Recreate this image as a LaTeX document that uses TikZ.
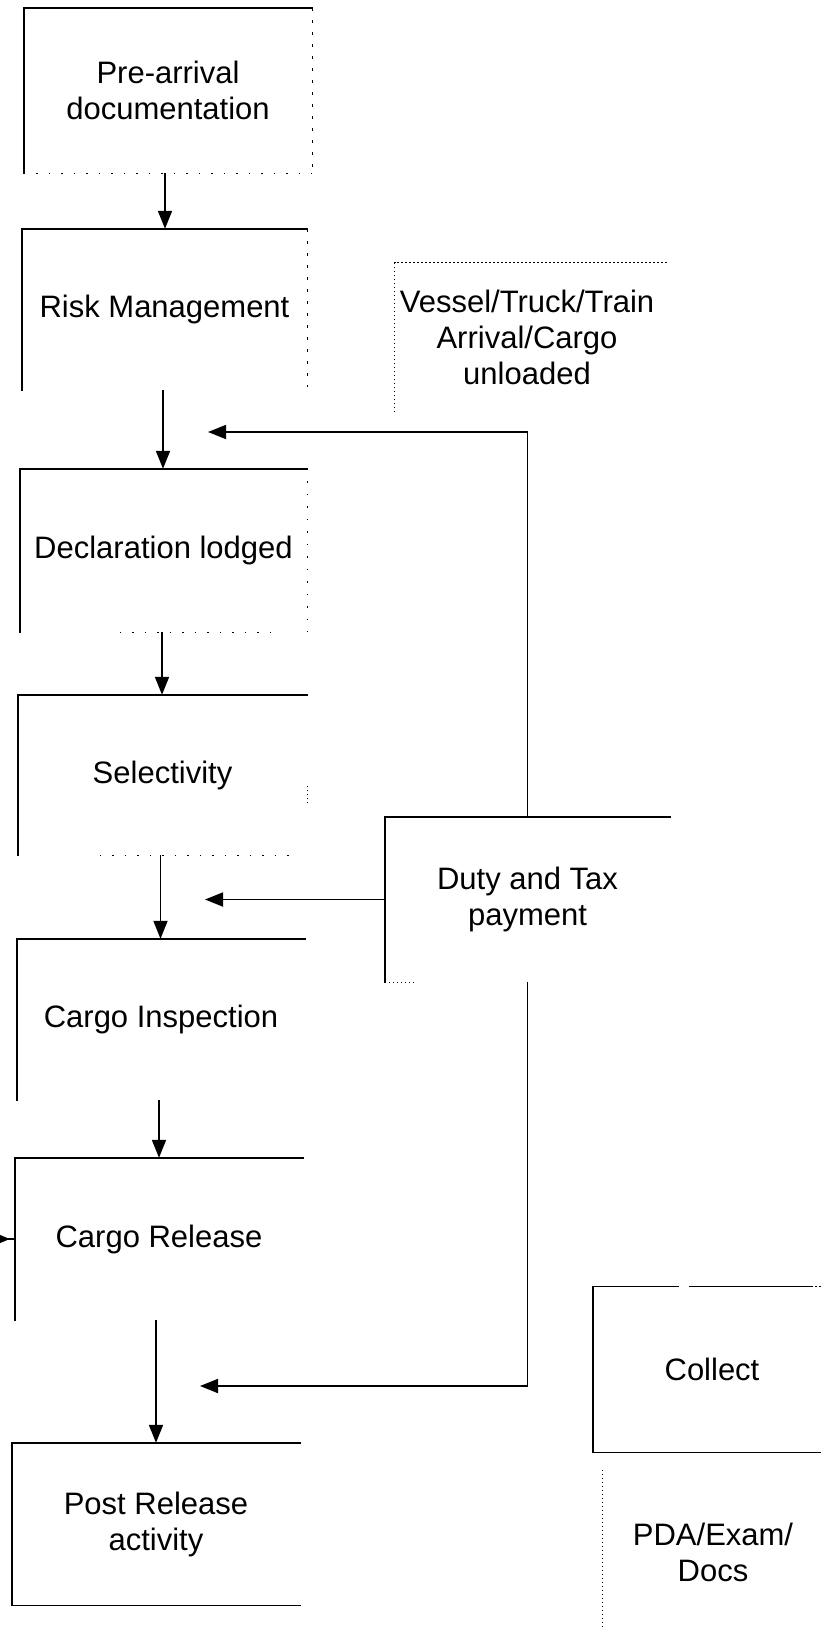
\documentclass[tikz,border=0pt]{standalone}
\usepackage{fontspec}
\setmainfont{Liberation Sans}
\usetikzlibrary{arrows.meta}

\tikzset{
  stagebox/.style={inner sep=0pt, align=center, font=\fontsize{31}{36}\selectfont},
  edge/.style={line width=1.4pt, line cap=rect},
  thinedge/.style={line width=1.2pt},
  sparsedash/.style={line width=1pt, dash pattern=on 3pt off 9pt},
  sparsedot/.style={line width=1.1pt, dash pattern=on 1.5pt off 11pt},
  finedot/.style={line width=1pt, dash pattern=on 1.5pt off 2.5pt},
  flow/.style={line width=1.8pt, -{Triangle[length=18pt,width=14pt]}},
  feed/.style={line width=1.8pt, -{Triangle[length=18pt,width=14pt]}},
}

\begin{document}
\begin{tikzpicture}[x=1pt, y=-1pt]
  \useasboundingbox (0,0) rectangle (820,1630);

  % main process column
  \node[stagebox, minimum width=288, minimum height=165] (b1) at (168,90.5)
    {Pre-arrival\\documentation};
  \node[stagebox, minimum width=285, minimum height=161] (b2) at (164.5,309.5)
    {Risk Management};
  \node[stagebox, minimum width=287, minimum height=163] (b3) at (163.5,550.5)
    {Declaration lodged};
  \node[stagebox, minimum width=289, minimum height=160] (b4) at (162.5,775)
    {Selectivity};
  \node[stagebox, minimum width=288, minimum height=161] (b5) at (161,1019.5)
    {Cargo Inspection};
  \node[stagebox, minimum width=288, minimum height=162] (b6) at (159,1239)
    {Cargo Release};
  \node[stagebox, minimum width=288, minimum height=162] (b7) at (156,1524)
    {Post Release\\activity};

  % side boxes
  \node[stagebox, minimum width=264, minimum height=149] (ves) at (527,337.5)
    {Vessel/Truck/Train\\Arrival/Cargo\\unloaded};
  \node[stagebox, minimum width=285, minimum height=165] (duty) at (527.5,899.5)
    {Duty and Tax\\payment};
  \node[stagebox, minimum width=238, minimum height=165] (coll) at (712,1369.5)
    {Collect};
  \node[stagebox, minimum width=220, minimum height=164] (pda) at (713,1552)
    {PDA/Exam/\\Docs};

  % box outlines (partly faded edges)
  \draw[edge] (b1.south west) -- (b1.north west) -- (b1.north east);
  \draw[sparsedash] (b1.north east) -- (b1.south east);
  \draw[sparsedot] (b1.south west) -- (b1.south east);

  \draw[edge] (b2.south west) -- (b2.north west) -- (b2.north east);
  \draw[sparsedash] (b2.north east) -- ([yshift=3]b2.south east);

  \draw[edge] (b3.south west) -- (b3.north west) -- (b3.north east);
  \draw[sparsedot] (b3.north east) -- (b3.south east);
  \draw[sparsedot] ([xshift=100]b3.south west) -- ([xshift=-35]b3.south east);

  \draw[edge] (b4.south west) -- (b4.north west) -- (b4.north east);
  \draw[finedot] ([yshift=-28]b4.east) -- ([yshift=-8]b4.east);
  \draw[sparsedot] ([xshift=82]b4.south west) -- ([xshift=-17]b4.south east);

  \draw[edge] (b5.south west) -- (b5.north west) -- (b5.north east);
  \draw[edge] (b6.south west) -- (b6.north west) -- (b6.north east);
  \draw[edge] (b7.north east) -- (b7.north west) -- (b7.south west) -- (b7.south east);

  \draw[finedot] (ves.south west) -- (ves.north west) -- ([xshift=8]ves.north east);

  \draw[edge] (duty.south west) -- (duty.north west) -- (duty.north east);
  \draw[finedot] (duty.south west) -- ([xshift=30]duty.south west);

  \draw[thinedge] (coll.north west) -- ([xshift=86]coll.north west);
  \draw[thinedge] ([xshift=96]coll.north west) -- ([xshift=-20]coll.north east);
  \draw[finedot] ([xshift=-20]coll.north east) -- (coll.north east);
  \draw[edge] (coll.north west) -- (coll.south west) -- (coll.south east);

  \draw[finedot] (pda.north west) -- (pda.south west);

  % main flow
  \draw[flow] ([xshift=-3]b1.south) -- ([xshift=-3]b1.south |- b2.north);
  \draw[flow] ([xshift=-1.5]b2.south) -- ([xshift=-1.5]b2.south |- b3.north);
  \draw[flow] ([xshift=-1.5]b3.south) -- ([xshift=-1.5]b3.south |- b4.north);
  \draw[flow] ([xshift=-2]b4.south) -- ([xshift=-2]b4.south |- b5.north);
  \draw[flow] ([xshift=-2]b5.south) -- ([xshift=-2]b5.south |- b6.north);
  \draw[flow] ([xshift=-3]b6.south) -- ([xshift=-3]b6.south |- b7.north);

  % payment feedback into the main column
  \coordinate (in1) at (208,432);
  \coordinate (in2) at (205,899.5);
  \coordinate (in3) at (200,1386);
  \draw[feed] (duty.north) |- (in1);
  \draw[feed] (duty.west) -- (in2);
  \draw[feed] (duty.south) |- (in3);

  % entry from the left into cargo release
  \coordinate (rin) at (0,1239);
  \draw[line width=1.2pt] (rin) -- (b6.west);
  \draw[line width=1.2pt, -{Triangle[length=10pt,width=8pt]}, shorten >=5pt] (rin) -- (b6.west);
\end{tikzpicture}
\end{document}
